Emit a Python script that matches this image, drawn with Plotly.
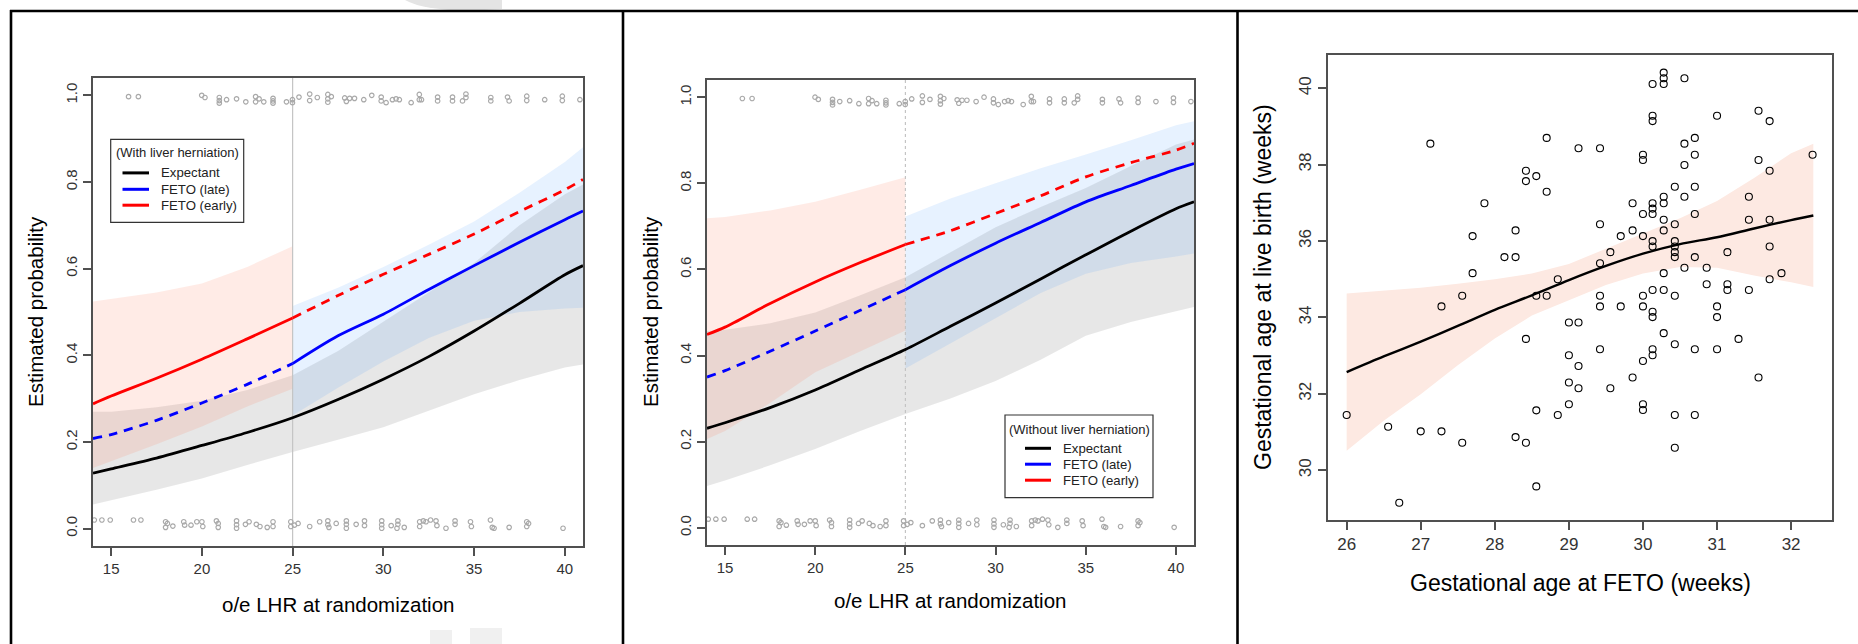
import plotly.graph_objects as go

W, H = 1858, 644
FONT = "Liberation Sans, Arial, Helvetica, sans-serif"

# ---------------- Panels 1 & 2: o/e LHR models ----------------
x_all = [14, 15, 17.5, 20, 22.5, 25, 27.5, 30, 32.5, 35, 37.5, 40, 41]
x_early = [14, 15, 17.5, 20, 22.5, 25]
x_late = [25, 27.5, 30, 32.5, 35, 37.5, 40, 41]

# Panel 1: with liver herniation
p1_exp = [0.128, 0.138, 0.163, 0.192, 0.222, 0.256, 0.298, 0.345, 0.397, 0.456, 0.520, 0.586, 0.607]
p1_exp_lo = [0.056, 0.065, 0.090, 0.116, 0.147, 0.177, 0.205, 0.234, 0.272, 0.310, 0.343, 0.372, 0.379]
p1_exp_hi = [0.270, 0.270, 0.280, 0.295, 0.320, 0.354, 0.410, 0.478, 0.545, 0.613, 0.700, 0.772, 0.794]
p1_late_before = [0.208, 0.217, 0.250, 0.290, 0.333, 0.381]
p1_late_after = [0.381, 0.445, 0.495, 0.552, 0.607, 0.661, 0.713, 0.733]
p1_late_lo = [0.261, 0.325, 0.386, 0.440, 0.480, 0.500, 0.508, 0.510]
p1_late_hi = [0.514, 0.556, 0.604, 0.655, 0.709, 0.775, 0.846, 0.880]
p1_early_before = [0.288, 0.306, 0.347, 0.391, 0.438, 0.486]
p1_early_after = [0.486, 0.538, 0.587, 0.633, 0.680, 0.732, 0.782, 0.806]
p1_early_lo = [0.140, 0.155, 0.195, 0.236, 0.282, 0.323]
p1_early_hi = [0.524, 0.530, 0.545, 0.566, 0.604, 0.652]

# Panel 2: without liver herniation
p2_exp = [0.231, 0.244, 0.279, 0.320, 0.367, 0.414, 0.468, 0.522, 0.578, 0.634, 0.689, 0.741, 0.757]
p2_exp_lo = [0.097, 0.110, 0.145, 0.183, 0.225, 0.264, 0.300, 0.341, 0.390, 0.446, 0.478, 0.503, 0.513]
p2_exp_hi = [0.457, 0.460, 0.475, 0.500, 0.540, 0.582, 0.640, 0.698, 0.745, 0.789, 0.840, 0.890, 0.902]
p2_late_before = [0.350, 0.365, 0.410, 0.457, 0.505, 0.553]
p2_late_after = [0.553, 0.609, 0.661, 0.709, 0.757, 0.795, 0.833, 0.846]
p2_late_lo = [0.370, 0.430, 0.487, 0.545, 0.590, 0.615, 0.630, 0.637]
p2_late_hi = [0.723, 0.765, 0.800, 0.835, 0.867, 0.900, 0.935, 0.944]
p2_early_before = [0.449, 0.466, 0.521, 0.571, 0.616, 0.658]
p2_early_after = [0.658, 0.690, 0.730, 0.771, 0.815, 0.848, 0.877, 0.893]
p2_early_lo = [0.206, 0.225, 0.290, 0.361, 0.410, 0.458]
p2_early_hi = [0.719, 0.722, 0.737, 0.757, 0.785, 0.814]

# observed outcomes (jittered rug at 1 and 0)
rug1_x = [15.96, 16.5, 19.99, 20.17, 20.96, 20.96, 20.96, 21.36, 21.91, 22.42, 22.96, 22.96, 23.15,
          23.41, 23.92, 23.92, 23.92, 24.66, 24.99, 24.99, 25.35, 25.94, 25.94, 26.36, 26.94, 26.94,
          26.94, 27.13, 27.87, 27.96, 28.14, 28.41, 28.92, 29.36, 29.88, 29.88, 30.15, 30.5, 30.7,
          30.88, 31.53, 31.98, 31.98, 32.1, 32.99, 32.99, 33.81, 33.81, 34.36, 34.55, 34.55, 35.92,
          35.92, 36.84, 36.93, 37.9, 37.9, 38.89, 39.86, 39.86, 40.83]
rug1_y = [0.997, 0.997, 1.0, 0.995, 0.995, 0.988, 0.982, 0.99, 0.992, 0.985, 0.997, 0.985, 0.992,
          0.985, 0.993, 0.987, 0.982, 0.985, 0.99, 0.983, 0.996, 1.003, 0.988, 0.995, 1.002, 0.992,
          0.984, 0.997, 0.994, 0.986, 0.993, 0.993, 0.99, 1.0, 0.996, 0.987, 0.983, 0.99, 0.992,
          0.99, 0.983, 1.002, 0.99, 0.99, 0.996, 0.987, 0.996, 0.987, 0.987, 0.995, 1.003, 0.995,
          0.987, 0.996, 0.987, 0.998, 0.988, 0.99, 0.998, 0.988, 0.99]
rug0_x = [14.07, 14.49, 14.95, 16.23, 16.64, 18.0, 18.1, 18.0, 18.4, 19.0, 19.05, 19.4, 19.72, 20.0,
          20.05, 20.8, 20.9, 20.9, 21.91, 21.91, 21.91, 22.4, 22.6, 23.0, 23.2, 23.6, 23.92, 23.92,
          24.9, 24.9, 25.1, 25.3, 25.94, 26.49, 26.94, 26.94, 27.0, 27.4, 27.96, 27.96, 27.96, 28.5,
          28.96, 28.96, 29.91, 29.91, 29.91, 30.43, 30.8, 30.8, 30.75, 31.15, 32.0, 32.0, 32.2,
          32.35, 32.6, 32.9, 32.95, 33.45, 33.95, 33.95, 34.8, 34.85, 35.9, 36.0, 36.1, 36.93, 37.9,
          37.9, 38.0, 39.9]
rug0_y = [0.02, 0.02, 0.02, 0.02, 0.02, 0.016, 0.012, 0.003, 0.006, 0.016, 0.008, 0.008, 0.016, 0.016,
          0.005, 0.018, 0.012, 0.003, 0.018, 0.009, 0.001, 0.01, 0.016, 0.01, 0.005, 0.003, 0.016, 0.005,
          0.016, 0.005, 0.008, 0.012, 0.005, 0.016, 0.018, 0.009, 0.003, 0.012, 0.018, 0.01, 0.001, 0.01,
          0.018, 0.007, 0.018, 0.009, 0.001, 0.007, 0.018, 0.01, 0.001, 0.003, 0.016, 0.005, 0.018,
          0.016, 0.02, 0.018, 0.007, 0.001, 0.018, 0.01, 0.016, 0.005, 0.02, 0.003, 0.001, 0.003, 0.016,
          0.005, 0.012, 0.001]

lhr_ticks = [15, 20, 25, 30, 35, 40]
prob_ticks = [0.0, 0.2, 0.4, 0.6, 0.8, 1.0]
prob_labels = ["0.0", "0.2", "0.4", "0.6", "0.8", "1.0"]

# ---------------- Panel 3: GA at FETO vs GA at birth ----------------
ga_feto = [26.0, 27.13, 26.56, 26.71, 27.0, 27.28, 27.28, 27.56, 27.56, 27.70, 27.70, 27.86, 28.13,
           28.28, 28.28, 28.28, 28.42, 28.42, 28.42, 28.42, 28.56, 28.56, 28.56, 28.56, 28.70, 28.70,
           28.70, 28.85, 28.85, 29.0, 29.0, 29.0, 29.0, 29.13, 29.13, 29.13, 29.13,
           29.42, 29.42, 29.42, 29.42, 29.42, 29.42, 29.56, 29.56, 29.70, 29.70, 29.86, 29.86, 29.86,
           30.0, 30.0, 30.0, 30.0, 30.0, 30.0, 30.0, 30.0, 30.0,
           30.13, 30.13, 30.13, 30.13, 30.13, 30.13, 30.13, 30.13, 30.13, 30.13, 30.13, 30.13, 30.13,
           30.28, 30.28, 30.28, 30.28, 30.28, 30.28, 30.28, 30.28, 30.28, 30.28,
           30.43, 30.43, 30.43, 30.43, 30.43, 30.43, 30.43, 30.43, 30.43, 30.43,
           30.56, 30.56, 30.56, 30.56, 30.56,
           30.70, 30.70, 30.70, 30.70, 30.70, 30.70, 30.70,
           30.86, 30.86, 31.0, 31.0, 31.0, 31.0, 31.14, 31.14, 31.14, 31.29,
           31.43, 31.43, 31.43, 31.56, 31.56, 31.56, 31.71, 31.71, 31.71, 31.71, 31.71, 31.87, 32.29]
ga_birth = [31.45, 38.55, 31.14, 29.15, 31.02, 31.02, 34.29, 30.72, 34.57, 36.13, 35.16, 36.99, 35.58,
            36.28, 35.58, 30.87, 37.84, 37.57, 33.44, 30.72, 37.70, 34.57, 31.57, 29.58, 38.70, 37.29,
            34.57, 35.00, 31.45, 33.87, 33.01, 32.30, 31.73, 38.43, 33.87, 32.73, 32.15,
            38.43, 36.44, 35.42, 34.57, 34.29, 33.17, 35.71, 32.15, 36.13, 34.29, 36.99, 36.28, 32.43,
            38.26, 38.12, 36.71, 36.13, 34.57, 34.29, 32.86, 31.73, 31.58,
            40.11, 39.28, 39.14, 36.99, 36.85, 36.71, 36.0, 35.86, 34.72, 34.15, 34.01, 33.17, 33.01,
            40.41, 40.26, 40.11, 37.16, 36.99, 36.56, 36.28, 35.16, 34.72, 33.59,
            37.42, 36.44, 36.0, 35.86, 35.71, 35.58, 34.57, 33.30, 31.45, 30.59,
            40.26, 38.55, 37.99, 37.16, 35.30,
            38.70, 38.26, 37.42, 36.71, 35.58, 33.17, 31.45,
            35.30, 34.87, 39.28, 34.29, 34.01, 33.17, 35.71, 34.87, 34.72, 33.44,
            37.16, 36.56, 34.72, 39.41, 38.12, 32.43, 39.14, 37.84, 36.56, 35.86, 35.00, 35.16, 38.26]
fit_x = [26, 26.5, 27, 27.5, 28, 28.5, 29, 29.5, 30, 30.5, 31, 31.5, 32, 32.3]
fit_y = [32.57, 32.98, 33.37, 33.78, 34.20, 34.58, 34.98, 35.35, 35.67, 35.92, 36.10, 36.33, 36.55, 36.67]
fit_lo = [30.51, 31.30, 31.99, 32.75, 33.45, 34.05, 34.45, 34.85, 35.15, 35.32, 35.30, 35.10, 34.92, 34.80]
fit_hi = [34.63, 34.70, 34.78, 34.88, 35.00, 35.15, 35.40, 35.80, 36.20, 36.60, 37.05, 37.65, 38.30, 38.55]
feto_ticks = [26, 27, 28, 29, 30, 31, 32]
birth_ticks = [30, 32, 34, 36, 38, 40]

# ---------------- colours ----------------
GRAY_BAND = "rgba(0,0,0,0.095)"
PINK_BAND = "rgba(255,110,80,0.14)"
BLUE_BAND = "rgba(40,140,255,0.11)"
RUG = "#a9a9a9"

fig = go.Figure()


def band(xs, lo, hi, color, xa, ya):
    fig.add_trace(go.Scatter(x=list(xs) + list(xs)[::-1], y=list(hi) + list(lo)[::-1],
                             fill="toself", fillcolor=color, line=dict(width=0), mode="lines",
                             hoverinfo="skip", showlegend=False, xaxis=xa, yaxis=ya))


def curve(xs, ys, color, dash, xa, ya, width=2.8):
    fig.add_trace(go.Scatter(x=xs, y=ys, mode="lines",
                             line=dict(color=color, width=width, dash=dash, shape="spline", smoothing=0.8),
                             hoverinfo="skip", showlegend=False, xaxis=xa, yaxis=ya))


panels = [
    ("x", "y", "solid", p1_exp, p1_exp_lo, p1_exp_hi, p1_late_before, p1_late_after, p1_late_lo, p1_late_hi,
     p1_early_before, p1_early_after, p1_early_lo, p1_early_hi),
    ("x2", "y2", "dot", p2_exp, p2_exp_lo, p2_exp_hi, p2_late_before, p2_late_after, p2_late_lo, p2_late_hi,
     p2_early_before, p2_early_after, p2_early_lo, p2_early_hi),
]
for (xa, ya, vdash, exp_, exp_lo, exp_hi, lb, la, llo, lhi, eb, ea, elo, ehi) in panels:
    band(x_all, exp_lo, exp_hi, GRAY_BAND, xa, ya)
    band(x_early, elo, ehi, PINK_BAND, xa, ya)
    band(x_late, llo, lhi, BLUE_BAND, xa, ya)
    fig.add_trace(go.Scatter(x=[25, 25], y=[-0.04, 1.04], mode="lines",
                             line=dict(color="#c4c4c4", width=1.2, dash=vdash),
                             hoverinfo="skip", showlegend=False, xaxis=xa, yaxis=ya))
    for rx, ry in ((rug1_x, rug1_y), (rug0_x, rug0_y)):
        fig.add_trace(go.Scatter(x=rx, y=ry, mode="markers",
                                 marker=dict(symbol="circle-open", size=4.5, color=RUG, line=dict(width=1.2, color=RUG)),
                                 hoverinfo="skip", showlegend=False, xaxis=xa, yaxis=ya))
    curve(x_all, exp_, "black", "solid", xa, ya)
    curve(x_early, lb, "#0000ff", "9px,7px", xa, ya)
    curve(x_late, la, "#0000ff", "solid", xa, ya)
    curve(x_early, eb, "#ff0000", "solid", xa, ya)
    curve(x_late, ea, "#ff0000", "9px,7px", xa, ya)

# Panel 3
band(fit_x, fit_lo, fit_hi, "#fde9e2", "x3", "y3")
curve(fit_x, fit_y, "black", "solid", "x3", "y3", width=2.4)
fig.add_trace(go.Scatter(x=ga_feto, y=ga_birth, mode="markers",
                         marker=dict(symbol="circle-open", size=7, color="black", line=dict(width=1.1, color="black")),
                         hoverinfo="skip", showlegend=False, xaxis="x3", yaxis="y3"))


def px(x):
    return x / W


def py(y):
    return 1 - y / H


ax = dict(showline=True, linecolor="#505050", linewidth=1.5, mirror=True, ticks="outside", ticklen=8,
          tickwidth=1.5, tickcolor="#505050", showgrid=False, zeroline=False, fixedrange=True)

fig.update_layout(
    width=W, height=H, margin=dict(l=0, r=0, t=0, b=0), paper_bgcolor="white", plot_bgcolor="white",
    showlegend=False, font=dict(family=FONT, color="#222222"),
    xaxis=dict(ax, domain=[px(93), px(583)], anchor="y", range=[14, 41], tickvals=lhr_ticks,
               tickfont=dict(size=15, color="#333333")),
    yaxis=dict(ax, domain=[py(546), py(78)], anchor="x", range=[-0.04, 1.04], tickvals=prob_ticks,
               ticktext=prob_labels, tickangle=-90, tickfont=dict(size=15, color="#333333")),
    xaxis2=dict(ax, domain=[px(707), px(1194)], anchor="y2", range=[14, 41], tickvals=lhr_ticks,
                tickfont=dict(size=15, color="#333333")),
    yaxis2=dict(ax, domain=[py(545), py(80)], anchor="x2", range=[-0.04, 1.04], tickvals=prob_ticks,
                ticktext=prob_labels, tickangle=-90, tickfont=dict(size=15, color="#333333")),
    xaxis3=dict(ax, domain=[px(1328), px(1832)], anchor="y3", range=[25.748, 32.552], tickvals=feto_ticks,
                tickfont=dict(size=17, color="#333333")),
    yaxis3=dict(ax, domain=[py(520), py(55)], anchor="x3", range=[28.70, 40.87], tickvals=birth_ticks,
                tickangle=-90, tickfont=dict(size=17, color="#333333")),
)

ann = []


def text(x, y, s, size, angle=0, xanchor="center", color="black"):
    ann.append(dict(x=px(x), y=py(y), xref="paper", yref="paper", text=s, showarrow=False,
                    textangle=angle, xanchor=xanchor, yanchor="middle",
                    font=dict(size=size, color=color, family=FONT)))


text(35, 312, "Estimated probability", 20.5, -90)
text(338, 604, "o/e LHR at randomization", 20.5)
text(650, 312, "Estimated probability", 20.5, -90)
text(950, 600, "o/e LHR at randomization", 20.5)
text(1263, 287, "Gestational age at live birth (weeks)", 23, -90)
text(1580, 583, "Gestational age at FETO (weeks)", 23)

shapes = []
leg_names = ["Expectant", "FETO (late)", "FETO (early)"]
leg_colors = ["black", "#0000ff", "#ff0000"]


def legend(box, title, title_y, line_x, ys, text_x):
    x0, y0, x1, y1 = box
    shapes.append(dict(type="rect", xref="paper", yref="paper", x0=px(x0), x1=px(x1), y0=py(y1), y1=py(y0),
                       line=dict(color="#333333", width=1.2), fillcolor="white", layer="above"))
    text((x0 + x1) / 2, title_y, title, 13, color="#222222")
    for name, col, yy in zip(leg_names, leg_colors, ys):
        shapes.append(dict(type="line", xref="paper", yref="paper", x0=px(line_x[0]), x1=px(line_x[1]),
                           y0=py(yy), y1=py(yy), line=dict(color=col, width=3), layer="above"))
        text(text_x, yy, name, 13.2, xanchor="left", color="#222222")


legend((110.7, 139.3, 243.7, 222.3), "(With liver herniation)", 152.5, (122.5, 149), [172.9, 189.3, 205.2], 158.5)
legend((1005, 415, 1153, 497.7), "(Without liver herniation)", 429.3, (1025, 1051), [448.3, 464.2, 480.2], 1060.5)

# frame lines
for (x0, y0, x1, y1) in [(10, 11, W, 11), (11, 10, 11, H), (623, 10, 623, H), (1237.5, 10, 1237.5, H)]:
    shapes.append(dict(type="line", xref="paper", yref="paper", x0=px(x0), x1=px(x1), y0=py(y0), y1=py(y1),
                       line=dict(color="black", width=2.6), layer="above"))

# faint watermark fragments at top and bottom edges
shapes.append(dict(type="path", xref="paper", yref="paper",
                   path="M %f %f L %f %f L %f %f Q %f %f %f %f Z" % (
                       px(405), py(0), px(502), py(0), px(502), py(9), px(430), py(14), px(405), py(0)),
                   fillcolor="#e4e4e4", line=dict(width=0), layer="below"))
shapes.append(dict(type="rect", xref="paper", yref="paper", x0=px(430), x1=px(452), y0=py(H), y1=py(630),
                   fillcolor="#f0f0f0", line=dict(width=0), layer="below"))
shapes.append(dict(type="rect", xref="paper", yref="paper", x0=px(470), x1=px(502), y0=py(H), y1=py(628),
                   fillcolor="#f0f0f0", line=dict(width=0), layer="below"))

fig.update_layout(annotations=ann, shapes=shapes)
fig.write_html("out.html", config={"displayModeBar": False},
               post_script="document.body.style.margin='0px';document.body.style.overflow='hidden';")
